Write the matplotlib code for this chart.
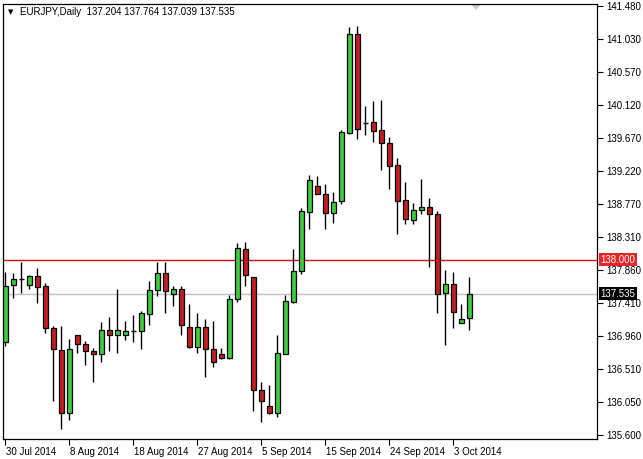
import matplotlib
matplotlib.use("Agg")
import matplotlib.pyplot as plt
import matplotlib.transforms as mtransforms
from matplotlib.patches import Rectangle, Polygon

plt.rcParams["font.family"] = ["Liberation Sans", "DejaVu Sans"]

# ---- data ----
opens = [136.875, 137.652, 137.734, 137.652, 137.779, 137.642, 137.071, 136.765, 135.906, 136.967,
         136.843, 136.747, 136.706, 137.039, 136.967, 136.967, 137.021, 137.021, 137.254, 137.583,
         137.816, 137.529, 137.597, 137.085, 136.811, 137.085, 136.779, 136.706, 136.651, 137.460,
         138.145, 137.770, 136.213, 135.997, 135.905, 136.710, 137.427, 137.844, 138.660, 139.013,
         138.899, 138.639, 138.811, 139.743, 141.092, 139.872, 139.886, 139.781, 139.598, 139.296,
         138.817, 138.543, 138.680, 138.721, 138.625, 137.542, 137.666, 137.131, 137.204]
highs = [137.834, 137.825, 137.975, 137.790, 137.893, 137.679, 137.094, 137.094, 136.916, 136.970,
         136.889, 136.789, 137.149, 137.213, 137.601, 137.167, 137.245, 137.300, 137.711, 137.975,
         137.967, 137.642, 137.642, 137.396, 137.268, 137.186, 137.167, 136.789, 137.519, 138.227,
         138.249, 137.770, 136.331, 136.285, 136.971, 137.519, 138.149, 138.707, 139.163, 139.150,
         139.040, 138.935, 139.780, 141.196, 141.206, 140.109, 140.178, 140.191, 139.680, 139.392,
         139.063, 138.776, 139.104, 138.844, 138.670, 137.862, 137.830, 137.396, 137.764]
lows = [136.820, 137.482, 137.542, 137.597, 137.405, 137.002, 136.066, 135.686, 135.806, 136.720,
        136.560, 136.331, 136.596, 136.756, 136.728, 136.902, 136.879, 136.783, 137.112, 137.505,
        137.276, 137.368, 136.975, 136.789, 136.720, 136.391, 136.528, 136.637, 136.640, 137.419,
        137.642, 135.929, 135.778, 135.888, 135.851, 136.710, 137.405, 137.802, 138.419, 138.899,
        138.423, 138.501, 138.762, 139.721, 139.653, 139.716, 139.612, 139.232, 138.967, 138.351,
        138.488, 138.488, 138.625, 137.907, 137.268, 136.834, 137.071, 137.131, 137.039]
closes = [137.642, 137.734, 137.740, 137.779, 137.633, 137.071, 136.775, 135.906, 136.779, 136.843,
          136.747, 136.706, 137.039, 136.967, 137.039, 137.021, 137.025, 137.268, 137.583, 137.816,
          137.570, 137.597, 137.104, 136.811, 137.085, 136.779, 136.596, 136.651, 137.464, 138.159,
          137.789, 136.213, 136.070, 135.905, 136.720, 137.436, 137.844, 138.670, 139.091, 138.907,
          138.639, 138.797, 139.749, 141.092, 139.790, 139.876, 139.767, 139.598, 139.291, 138.803,
          138.556, 138.680, 138.721, 138.625, 137.529, 137.666, 137.290, 137.186, 137.535]

x_tick_labels = ["30 Jul 2014", "8 Aug 2014", "18 Aug 2014", "27 Aug 2014",
                 "5 Sep 2014", "15 Sep 2014", "24 Sep 2014", "3 Oct 2014"]
x_tick_bar_step = 8
y_tick_values = [141.480, 141.030, 140.570, 140.120, 139.670, 139.220, 138.770,
                 138.310, 137.860, 137.410, 136.960, 136.510, 136.050, 135.600]
level_line = 138.000
last_price = 137.535
title = "EURJPY,Daily"
header_ohlc = ["137.204", "137.764", "137.039", "137.535"]

# ---- figure ----
W, H = 643, 459
fig = plt.figure(figsize=(W / 100, H / 100), dpi=100, facecolor="white")
ax_l, ax_r, ax_t, ax_b = 3, 597, 4, 439
ax = fig.add_axes([ax_l / W, (H - ax_b) / H, (ax_r - ax_l) / W, (ax_b - ax_t) / H])
ax.set_facecolor("white")

n_bars = len(opens)
ax.set_xlim(-0.3, 74.0)
ax.set_ylim(135.545, 141.508)

green = "#3ccd3c"
red = "#c41e1e"
bw = 0.62
for i in range(n_bars):
    o, h, l, c = opens[i], highs[i], lows[i], closes[i]
    ax.vlines(i, l, h, color="black", lw=1.0, zorder=2)
    bottom = min(o, c)
    height = abs(c - o)
    if height < 0.012:
        ax.hlines(c, i - bw / 2, i + bw / 2, color="black", lw=1.0, zorder=3)
    else:
        col = green if c >= o else red
        ax.add_patch(Rectangle((i - bw / 2, bottom), bw, height, facecolor=col,
                               edgecolor="black", lw=0.9, zorder=3))

# horizontal lines
ax.axhline(level_line, color="#d01010", lw=1.0, zorder=1)
ax.axhline(last_price, color="#c0c0c0", lw=1.0, zorder=1)

# ticks
ax.set_xticks([k * x_tick_bar_step for k in range(len(x_tick_labels))])
ax.set_xticklabels(x_tick_labels, ha="left", fontsize=7)
ax.tick_params(axis="x", direction="out", length=4, width=0.8, pad=2, colors="black")
offset = mtransforms.ScaledTranslation(1 / 100, 0, fig.dpi_scale_trans)
for lab in ax.get_xticklabels():
    lab.set_transform(lab.get_transform() + offset)

ax.yaxis.tick_right()
ax.set_yticks(y_tick_values)
ax.set_yticklabels([f"{v:.3f}" for v in y_tick_values], fontsize=7)
ax.tick_params(axis="y", direction="out", length=4, width=0.8, pad=3, colors="black")

for s in ax.spines.values():
    s.set_color("black")
    s.set_linewidth(0.9)

# price boxes on the right axis
def price_box(val, face, txtcol):
    ax.text(1.006, val, f"{val:.3f}", transform=ax.get_yaxis_transform(),
            ha="left", va="center", fontsize=7, color=txtcol, zorder=10, clip_on=False,
            bbox=dict(boxstyle="square,pad=0.15", facecolor=face, edgecolor="none"))

price_box(level_line, "#e8262a", "white")
price_box(last_price, "black", "white")

# header
fig.text(8 / W, 1 - 12 / H, "\u25bc", fontsize=5, ha="left", va="center", color="black",
         family=["DejaVu Sans"])
fig.text(20 / W, 1 - 12 / H, title + "  " + " ".join(header_ohlc), fontsize=7,
         ha="left", va="center", color="black")

# chart-shift marker triangle
ax.add_patch(Polygon([[472 / W, 1 - 5 / H], [480 / W, 1 - 5 / H], [476 / W, 1 - 10 / H]],
                     closed=True, transform=fig.transFigure, facecolor="#c8c8c8",
                     edgecolor="none", clip_on=False))

fig.savefig("out.png", dpi=100, facecolor="white")
